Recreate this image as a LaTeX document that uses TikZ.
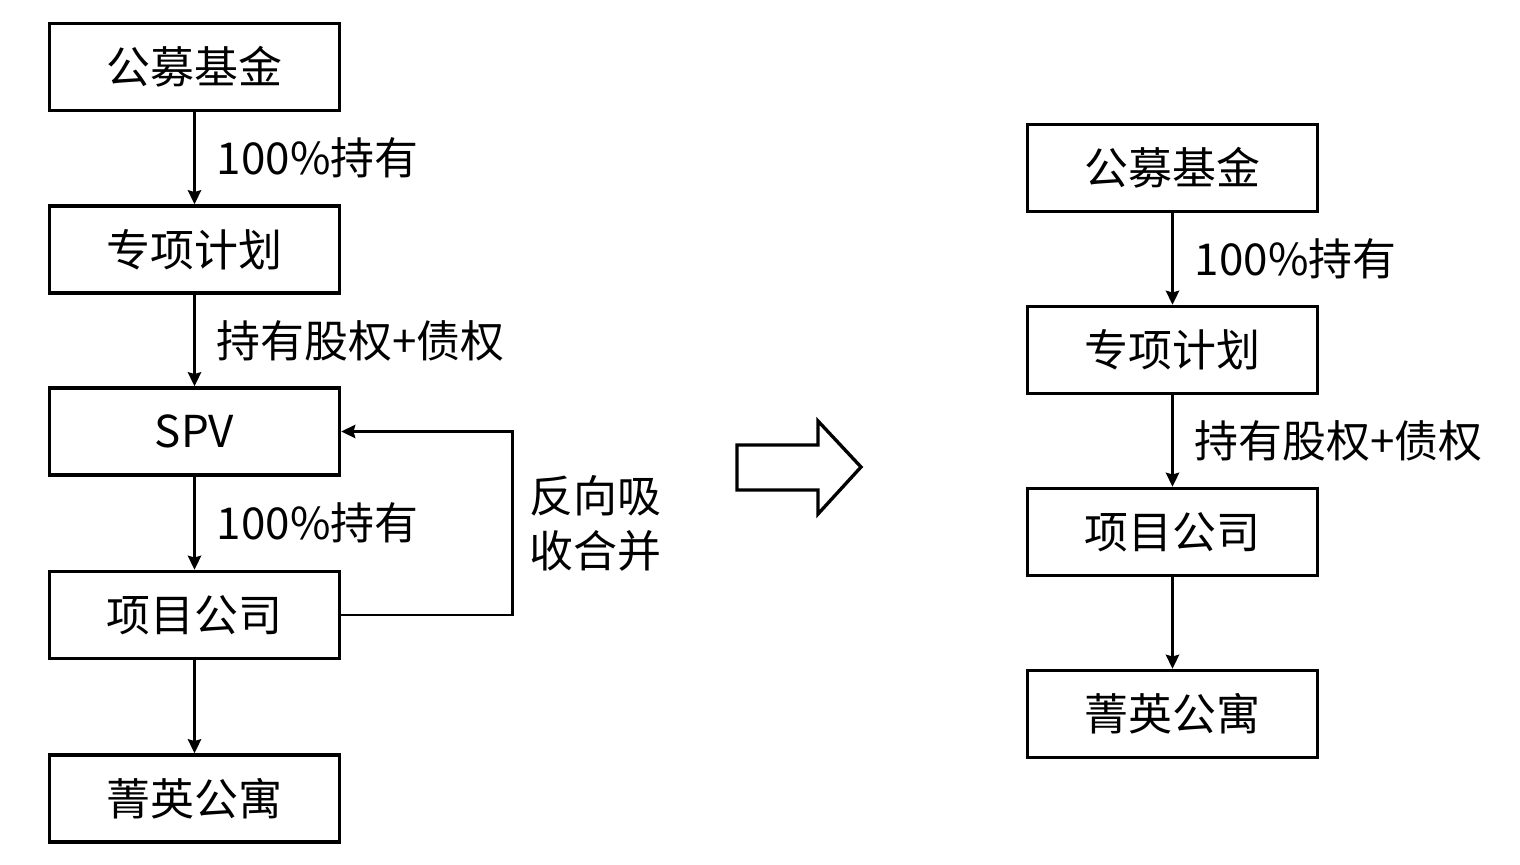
\documentclass[tikz,border=0pt]{standalone}
\usepackage{fontspec}
\newfontfamily\cjk{Noto Sans CJK SC}
\usetikzlibrary{arrows.meta}
\begin{document}
\begin{tikzpicture}[>={Stealth[length=8pt,width=7.5pt,inset=1pt]},
  box/.style={draw=black, line width=1.9pt, minimum width=5.8cm, minimum height=1.74cm, font=\cjk\fontsize{25}{30}\selectfont},
  lbl/.style={right, xshift=3mm, font=\cjk\fontsize{25}{30}\selectfont},
  link/.style={->, line width=1.7pt}]

\useasboundingbox (0,0) rectangle (30.4,17.28);

% before
\node [box] (fundL) at (3.89,15.94) {公募基金};
\node [box] (planL) at (3.89,12.29) {专项计划};
\node [box] (spv)   at (3.89,8.65)  {SPV};
\node [box] (compL) at (3.89,4.98)  {项目公司};
\node [box] (aptL)  at (3.89,1.31)  {菁英公寓};

\draw [link] (fundL) -- (planL) node [lbl, midway] {100\%持有};
\draw [link] (planL) -- (spv)   node [lbl, midway] {持有股权+债权};
\draw [link] (spv)   -- (compL) node [lbl, midway] {100\%持有};
\draw [link] (compL) -- (aptL);

\draw [link] (compL.east) -- ++(3.42,0) |- (spv.east)
  node [lbl, pos=0.25, xshift=-1mm, align=left, font=\cjk\fontsize{25}{31}\selectfont] {反向吸\\收合并};

% big arrow
\draw [line width=1.9pt, line join=miter] (14.74,8.38) -- (16.36,8.38) -- (16.36,8.86) -- (17.22,7.94)
  -- (16.36,7.0) -- (16.36,7.48) -- (14.74,7.48) -- cycle;

% after
\node [box] (fundR) at (23.45,13.92) {公募基金};
\node [box] (planR) at (23.45,10.28) {专项计划};
\node [box] (compR) at (23.45,6.64)  {项目公司};
\node [box] (aptR)  at (23.45,3.0)   {菁英公寓};

\draw [link] (fundR) -- (planR) node [lbl, midway] {100\%持有};
\draw [link] (planR) -- (compR) node [lbl, midway] {持有股权+债权};
\draw [link] (compR) -- (aptR);

\end{tikzpicture}
\end{document}
